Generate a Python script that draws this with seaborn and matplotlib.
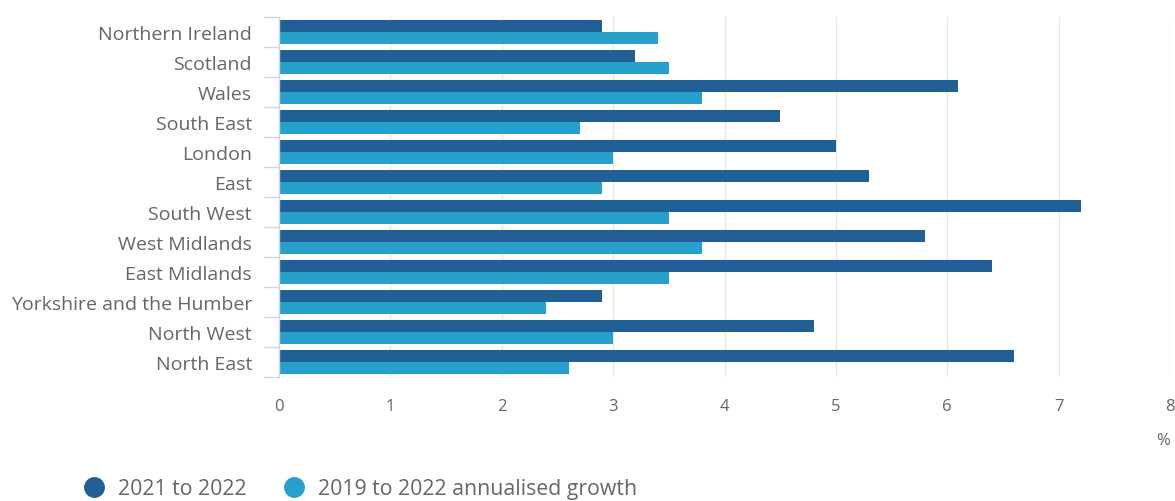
import matplotlib
matplotlib.use("Agg")
import matplotlib.pyplot as plt
import seaborn as sns
import pandas as pd
import numpy as np
from matplotlib.lines import Line2D

regions = ["Northern Ireland", "Scotland", "Wales", "South East", "London", "East",
           "South West", "West Midlands", "East Midlands", "Yorkshire and the Humber",
           "North West", "North East"]
growth_2021_2022 = [2.9, 3.2, 6.1, 4.5, 5.0, 5.3, 7.2, 5.8, 6.4, 2.9, 4.8, 6.6]
growth_2019_2022 = [3.4, 3.5, 3.8, 2.7, 3.0, 2.9, 3.5, 3.8, 3.5, 2.4, 3.0, 2.6]
series_names = ["2021 to 2022", "2019 to 2022 annualised growth"]
x_ticks = [0, 1, 2, 3, 4, 5, 6, 7, 8]
colors = ["#206095", "#27a0cc"]

df = pd.DataFrame({
    "region": regions * 2,
    "value": growth_2021_2022 + growth_2019_2022,
    "series": [series_names[0]] * len(regions) + [series_names[1]] * len(regions),
})

sns.set_style("white")
plt.rcParams["font.family"] = ["Open Sans", "DejaVu Sans"]

fig = plt.figure(figsize=(11.75, 5.02), dpi=100)
ax = fig.add_axes([279 / 1175, 1 - 378 / 502, 891 / 1175, 360 / 502])

sns.barplot(data=df, y="region", x="value", hue="series", order=regions,
            hue_order=series_names, palette=colors, orient="h", width=0.79,
            dodge=True, ax=ax, legend=False, saturation=1, edgecolor="none")

ax.set_xlim(0, 8)
ax.set_ylim(len(regions) - 0.5, -0.5)
ax.set_xticks(x_ticks)
ax.set_xticklabels([str(t) for t in x_ticks], color="#666666", fontsize=12)
ax.tick_params(axis="x", length=0, pad=15)
ax.set_xlabel("")
ax.set_ylabel("")
ax.xaxis.grid(True, color="#e6e6e6", linewidth=1)
ax.set_axisbelow(True)

# y axis: labels at centres, ticks at category boundaries
ax.tick_params(axis="y", which="major", left=False, length=0, pad=19.5, labelsize=14,
               labelcolor="#666666")
ax.set_yticks(np.arange(-0.5, len(regions)), minor=True)
ax.tick_params(axis="y", which="minor", left=True, length=11, color="#ccd6eb", width=1)

for s in ["top", "right", "bottom"]:
    ax.spines[s].set_visible(False)
ax.spines["left"].set_color("#ccd6eb")
ax.spines["left"].set_linewidth(1)

fig.text(1163 / 1175, 1 - 441 / 502, "%", color="#666666", fontsize=12, ha="center", va="center")

handles = [Line2D([0], [0], marker="o", color="none", markerfacecolor=c, markeredgecolor=c,
                  markersize=14) for c in colors]
leg = fig.legend(handles, series_names, loc="center left", bbox_to_anchor=(70 / 1175, 1 - 490 / 502),
                 frameon=False, ncol=2, fontsize=15.3, handletextpad=0.35, columnspacing=1.5,
                 handlelength=1.5, borderaxespad=0)
for t in leg.get_texts():
    t.set_color("#666666")

fig.savefig("out.png", dpi=100)
